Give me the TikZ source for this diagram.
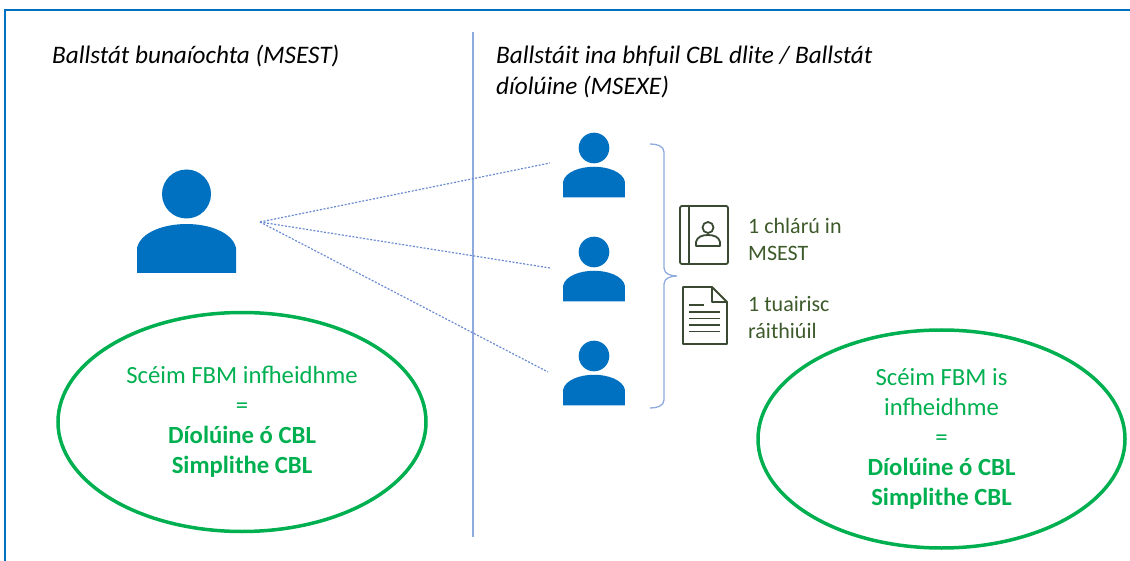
\documentclass[tikz,border=0pt]{standalone}
\usepackage{fontspec}
\setmainfont{Carlito}
\usetikzlibrary{shapes.geometric}
\definecolor{pblue}{HTML}{0070C0}
\definecolor{lblue}{HTML}{8FAADC}
\definecolor{dblue}{HTML}{6A8BD0}
\definecolor{sgreen}{HTML}{00B050}
\definecolor{olive}{HTML}{3D5A2A}
\definecolor{icon}{HTML}{3A4A32}
\tikzset{
  person/.pic={
    \fill[pblue] (0,0) circle (24.5);
    \fill[pblue] (-49.5,79) -- (-49.5,54) .. controls (-46,38) and (-22,30) .. (0,30)
      .. controls (22,30) and (46,38) .. (49.5,54) -- (49.5,79) -- cycle;
  },
  heading/.style={font=\fontsize{25.2}{31}\selectfont\itshape, inner sep=0pt, align=left},
  label/.style={font=\fontsize{22}{27}\selectfont, text=olive, inner sep=0pt, align=left, anchor=west},
  bubble/.style={ellipse, draw=sgreen, line width=3.5pt, text=sgreen, align=center,
     font=\fontsize{24.7}{30}\selectfont, inner sep=0pt},
  dotline/.style={dblue, line width=1.2pt, dash pattern=on 2pt off 1.6pt},
  iconline/.style={icon, line width=1.8pt, line join=round},
}
\begin{document}
\begin{tikzpicture}[x=1pt,y=-1pt]
\useasboundingbox (0,0) rectangle (1130,561);
% frame
\draw[pblue, line width=2.5pt] (5,561) -- (5,10) -- (1131,10);
% divider
\draw[lblue, line width=1.2pt] (473,32) -- (473,537);
% headings
\node[heading, anchor=base west] (h1) at (52,64) {Ballstát bunaíochta (MSEST)};
\node[heading, anchor=base west] (h2) at (496,95) {Ballstáit ina bhfuil CBL dlite / Ballstát\\díolúine (MSEXE)};
% persons
\pic at (186.5,194) {person};
\pic[scale=0.625] at (594,148) {person};
\pic[scale=0.625] at (594,252) {person};
\pic[scale=0.625] at (594,356) {person};
% dotted connectors
\coordinate (src) at (260,222);
\coordinate (t1) at (550,163);
\coordinate (t2) at (550,268);
\coordinate (t3) at (548,372);
\draw[dotline] (src) -- (t1);
\draw[dotline] (src) -- (t2);
\draw[dotline] (src) -- (t3);
% bracket
\draw[lblue, line width=1.3pt] (650,144) to[out=0,in=90] (664,152) -- (664,268)
   to[out=-90,in=180] (677,276) to[out=180,in=90] (664,284) -- (664,400)
   to[out=-90,in=0] (650,408);
% book icon
\draw[iconline, rounded corners=2pt] (680,206) rectangle (728,264);
\draw[iconline] (689,206) -- (689,264);
\draw[iconline] (708,227.5) circle (5.5);
\draw[iconline] (696,246) -- (696,242) .. controls (697,237) and (702,235) .. (708,235)
   .. controls (714,235) and (719,237) .. (720,242) -- (720,246) -- cycle;
% document icon
\draw[iconline] (683,287) -- (712,287) -- (727,302) -- (727,344) -- (683,344) -- cycle;
\draw[iconline] (712,287) -- (712,302) -- (727,302);
\draw[iconline] (689,305) -- (704,305);
\foreach \yy in {312,318.5,325,331.5} \draw[iconline] (689,\yy) -- (720,\yy);
% icon labels
\node[label] (l1) at (748,239) {1 chlárú in\\MSEST};
\node[label] (l2) at (748,318) {1 tuairisc\\ráithiúil};
% ellipses
\node[bubble, minimum width=368pt, minimum height=219pt] (e1) at (242,422)
  {Scéim FBM infheidhme\\=\\\textbf{Díolúine ó CBL}\\\textbf{Simplithe CBL}};
\node[bubble, minimum width=367pt, minimum height=218pt] (e2) at (941.5,439)
  {Scéim FBM is\\infheidhme\\=\\\textbf{Díolúine ó CBL}\\\textbf{Simplithe CBL}};
\end{tikzpicture}
\end{document}
